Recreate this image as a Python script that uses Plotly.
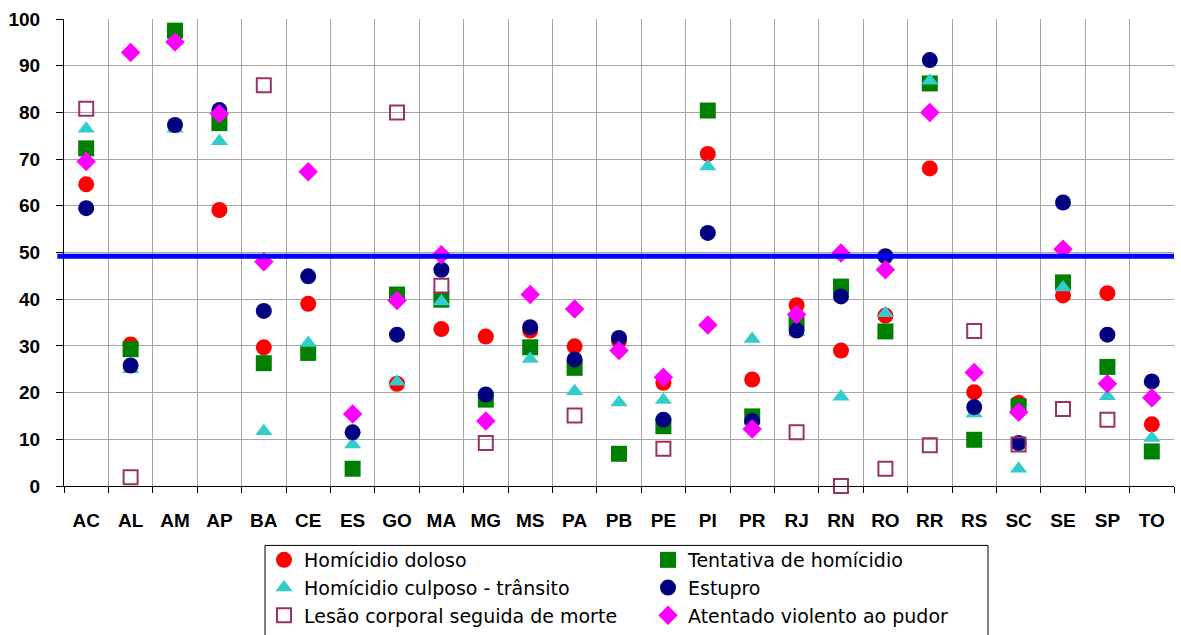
import plotly.graph_objects as go

estados = ["AC", "AL", "AM", "AP", "BA", "CE", "ES", "GO", "MA", "MG", "MS", "PA", "PB",
           "PE", "PI", "PR", "RJ", "RN", "RO", "RR", "RS", "SC", "SE", "SP", "TO"]

homicidio_doloso = [64.6, 30.3, None, 59.1, 29.7, 39.0, None, 21.9, 33.6, 32.0, 33.3, 29.9, 31.1,
                    22.1, 71.1, 22.8, 38.7, 29.0, 36.5, 68.0, 20.1, 17.8, 40.8, 41.3, 13.2]
tentativa_homicidio = [72.3, 29.3, 97.5, 77.7, 26.3, 28.5, 3.7, 41.0, 39.9, 18.5, 29.7, 25.3, 6.9,
                       12.8, 80.4, 14.9, 35.3, 42.7, 33.1, 86.2, 9.9, 17.1, 43.6, 25.5, 7.4]
homicidio_culposo = [76.5, 25.0, 76.5, 73.8, 11.7, 30.6, 8.9, 22.3, 39.5, None, 27.2, 20.3, 17.9,
                     18.4, 68.4, 31.5, 33.0, 19.1, 37.0, 86.8, 15.5, 3.7, 42.5, 19.2, 10.3]
estupro = [59.5, 25.8, 77.3, 80.5, 37.5, 44.9, 11.5, 32.4, 46.3, 19.6, 34.0, 27.1, 31.7,
           14.2, 54.2, 13.9, 33.3, 40.6, 49.2, 91.2, 16.9, 9.2, 60.7, 32.4, 22.4]
lesao_corporal = [80.8, 1.9, None, None, 85.8, None, None, 80.0, 42.9, 9.2, None, 15.1, None,
                  8.0, None, None, 11.5, 0.0, 3.7, 8.7, 33.2, 8.9, 16.5, 14.2, None]
atentado_pudor = [69.5, 92.8, 95.1, 79.7, 48.0, 67.3, 15.4, 39.7, 49.5, 13.9, 41.0, 37.9, 29.0,
                  23.3, 34.5, 12.2, 36.7, 49.9, 46.3, 80.0, 24.3, 15.8, 50.7, 21.9, 18.9]
media = 49.2

series = [
    ("Homícidio doloso", homicidio_doloso, dict(symbol="circle", size=16, color="#FF0000"), "legend"),
    ("Tentativa de homícidio", tentativa_homicidio, dict(symbol="square", size=16, color="#008000"), "legend2"),
    ("Homícidio culposo - trânsito", homicidio_culposo, dict(symbol="triangle-up", size=15, color="#33CCCC"), "legend"),
    ("Estupro", estupro, dict(symbol="circle", size=16, color="#000080"), "legend2"),
    ("Lesão corporal seguida de morte", lesao_corporal,
     dict(symbol="square-open", size=14, color="#993366", line=dict(width=2, color="#993366")), "legend"),
    ("Atentado violento ao pudor", atentado_pudor, dict(symbol="diamond", size=15, color="#FF00FF"), "legend2"),
]

fig = go.Figure()
for name, vals, mk, lg in series:
    fig.add_trace(go.Scatter(x=estados, y=vals, mode="markers", name=name, marker=mk,
                             legend=lg, cliponaxis=False))

fig.add_shape(type="line", xref="paper", yref="y", x0=-0.006, x1=1.0, y0=media, y1=media,
              line=dict(color="#0000FF", width=5), layer="above")

FW, FH = 1181, 635
L, T, W, H = 64, 19, 1110, 467.5
def px(x): return (x - L) / W
def py(y): return (T + H - y) / H
def cx(x): return x / FW
def cy(y): return 1 - y / FH

fig.add_shape(type="rect", xref="paper", yref="paper", x0=px(265), x1=px(988), y0=py(546), y1=py(640),
              line=dict(color="black", width=1), fillcolor="rgba(0,0,0,0)")

legfont = dict(family="DejaVu Sans", size=19, color="black")
fig.update_layout(
    width=FW, height=FH,
    margin=dict(l=L, r=FW - L - W, t=T, b=FH - T - H, autoexpand=False),
    paper_bgcolor="white", plot_bgcolor="white",
    showlegend=True,
    legend=dict(xref="container", yref="container", x=cx(264), y=cy(541), xanchor="left", yanchor="top",
                orientation="v", font=legfont, bgcolor="rgba(0,0,0,0)", itemwidth=30),
    legend2=dict(xref="container", yref="container", x=cx(648), y=cy(541), xanchor="left", yanchor="top",
                 orientation="v", font=legfont, bgcolor="rgba(0,0,0,0)", itemwidth=30),
    xaxis=dict(type="category", range=[-0.5, 24.5], tickson="boundaries", ticks="outside",
               ticklen=6, tickcolor="black", showgrid=True, gridcolor="#A6A6A6", gridwidth=1,
               showline=True, linecolor="black", linewidth=1, automargin=False,
               tickfont=dict(family="Liberation Sans, Arial", size=19, color="black", weight="bold"),
               ticklabelstandoff=17),
    yaxis=dict(range=[0, 100], dtick=10, ticks="outside", ticklen=7, tickcolor="black",
               showgrid=True, gridcolor="#A6A6A6", gridwidth=1, zeroline=False,
               showline=True, linecolor="black", linewidth=1, automargin=False,
               tickfont=dict(family="Liberation Sans, Arial", size=19, color="black", weight="bold"),
               ticklabelstandoff=12),
)

fig.write_html("out.html", config={"displayModeBar": False},
               post_script="document.body.style.margin='0';document.body.style.padding='0';")
